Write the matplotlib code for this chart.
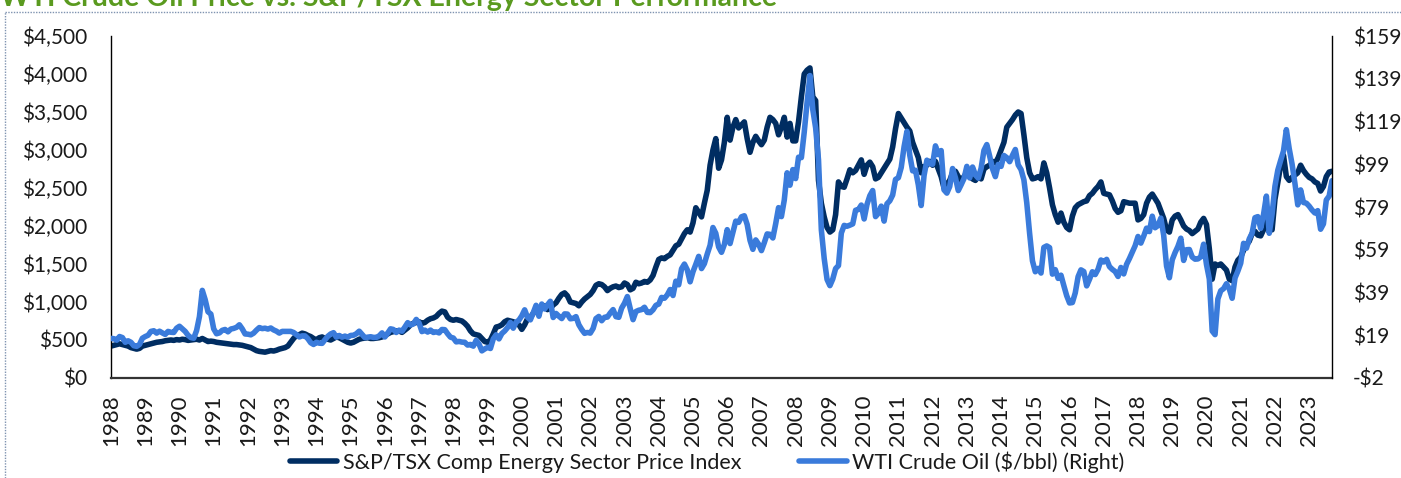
import matplotlib
matplotlib.use("Agg")
import matplotlib.pyplot as plt
from matplotlib.lines import Line2D

plt.rcParams['font.family'] = ['Lato', 'DejaVu Sans']

# ---------------- data ----------------
start_year = 1988          # first month: Jan 1988, monthly (month-end) values
tick_years = list(range(1988, 2024))

tsx_energy_index = [
    420, 430, 440, 450, 440, 430, 420, 400, 390, 380, 390, 420,          # 1988
    430, 440, 450, 460, 470, 475, 480, 490, 495, 500, 495, 505,          # 1989
    500, 510, 505, 495, 500, 505, 510, 500, 520, 500, 480, 485,          # 1990
    480, 470, 465, 460, 455, 450, 445, 440, 440, 435, 430, 420,          # 1991
    410, 400, 380, 360, 350, 345, 340, 350, 360, 355, 365, 380,          # 1992
    390, 400, 420, 470, 520, 560, 570, 590, 580, 560, 545, 520,          # 1993
    500, 530, 540, 520, 510, 500, 520, 540, 530, 510, 490, 470,          # 1994
    460, 470, 490, 510, 520, 525, 530, 520, 520, 525, 530, 540,          # 1995
    560, 580, 600, 610, 620, 620, 600, 630, 660, 700, 720, 730,          # 1996
    740, 720, 730, 760, 780, 790, 810, 850, 880, 870, 800, 770,          # 1997
    760, 770, 760, 750, 720, 680, 620, 580, 570, 560, 520, 480,          # 1998
    470, 500, 580, 670, 680, 700, 740, 760, 750, 740, 720, 700,          # 1999
    640, 700, 780, 800, 850, 900, 880, 920, 950, 900, 920, 960,          # 2000
    990, 1050, 1100, 1120, 1080, 1000, 990, 980, 950, 1000, 1040, 1070,  # 2001
    1100, 1150, 1220, 1240, 1230, 1200, 1150, 1180, 1200, 1210, 1190, 1200,  # 2002
    1250, 1230, 1160, 1180, 1260, 1240, 1250, 1270, 1260, 1290, 1350, 1460,  # 2003
    1560, 1580, 1570, 1600, 1620, 1680, 1740, 1760, 1830, 1900, 1950, 1920,  # 2004
    2040, 2240, 2180, 2120, 2300, 2470, 2800, 3000, 3150, 2760, 2870, 3100,  # 2005
    3430, 3130, 3300, 3400, 3290, 3330, 3370, 3150, 2970, 3100, 3180, 3120,  # 2006
    3070, 3130, 3300, 3430, 3400, 3350, 3200, 3300, 3430, 3170, 3350, 3120,  # 2007
    3120, 3370, 3700, 4000, 4050, 4080, 3700, 3650, 2600, 2300, 2120, 1980,  # 2008
    1920, 1950, 2150, 2580, 2520, 2510, 2620, 2740, 2700, 2730, 2800, 2870,  # 2009
    2680, 2800, 2840, 2780, 2620, 2640, 2700, 2760, 2820, 2880, 3040, 3280,  # 2010
    3480, 3420, 3360, 3300, 3250, 3100, 3000, 2900, 2700, 2780, 2800, 2850,  # 2011
    2800, 2850, 2750, 2650, 2500, 2550, 2600, 2700, 2720, 2650, 2600, 2650,  # 2012
    2700, 2650, 2620, 2600, 2650, 2620, 2750, 2780, 2800, 2850, 2830, 2900,  # 2013
    3000, 3100, 3300, 3350, 3400, 3460, 3500, 3480, 3200, 2900, 2700, 2620,  # 2014
    2630, 2650, 2620, 2830, 2700, 2500, 2280, 2150, 2050, 2170, 2050, 1980,  # 2015
    1950, 2130, 2240, 2280, 2300, 2320, 2330, 2400, 2430, 2480, 2520, 2580,  # 2016
    2430, 2420, 2410, 2330, 2230, 2180, 2200, 2320, 2310, 2300, 2300, 2300,  # 2017
    2080, 2100, 2150, 2300, 2380, 2420, 2360, 2300, 2200, 2100, 1950, 1920,  # 2018
    2080, 2130, 2150, 2080, 2000, 1960, 1940, 1900, 1930, 1960, 2050, 2100,  # 2019
    2020, 1700, 1300, 1500, 1480, 1500, 1460, 1420, 1300, 1280, 1460, 1550,  # 2020
    1590, 1680, 1750, 1800, 1900, 1930, 1880, 1870, 1950, 2060, 1950, 1950,  # 2021
    2350, 2570, 2800, 2930, 2650, 2600, 2640, 2670, 2700, 2800, 2730, 2680,  # 2022
    2640, 2620, 2580, 2560, 2460, 2520, 2650, 2710, 2720,                    # 2023
]

wti_price = [
    17.0, 16.9, 16.2, 17.9, 17.4, 15.2, 15.9, 15.2, 13.6, 13.3, 14.2, 17.1,  # 1988
    17.9, 18.5, 20.3, 20.6, 19.5, 20.4, 19.6, 18.9, 20.3, 19.9, 19.8, 21.8,  # 1989
    22.7, 21.5, 20.3, 18.5, 17.4, 17.1, 20.7, 27.2, 39.5, 35.2, 29.5, 28.4,  # 1990
    21.5, 19.2, 19.6, 20.8, 21.2, 20.1, 21.4, 21.7, 22.2, 23.4, 21.5, 19.1,  # 1991
    19.0, 18.7, 19.5, 20.9, 22.1, 21.6, 21.8, 21.4, 21.9, 21.0, 20.4, 19.5,  # 1992
    20.3, 20.3, 20.3, 20.3, 19.8, 18.8, 17.7, 18.2, 18.2, 16.9, 15.0, 14.2,  # 1993
    15.2, 14.8, 14.7, 16.4, 18.0, 19.1, 19.7, 17.6, 18.4, 17.6, 18.1, 17.6,  # 1994
    18.4, 18.5, 19.2, 20.4, 18.9, 17.4, 17.6, 17.8, 17.5, 17.5, 18.2, 19.6,  # 1995
    17.7, 19.5, 21.5, 21.2, 19.8, 20.9, 20.4, 22.3, 24.4, 23.3, 23.8, 25.9,  # 1996
    24.2, 20.2, 20.9, 20.0, 20.9, 19.8, 20.1, 19.6, 21.2, 21.1, 19.2, 17.6,  # 1997
    17.2, 15.4, 15.6, 15.3, 15.2, 13.9, 14.2, 13.4, 16.1, 14.4, 11.2, 12.1,  # 1998
    12.8, 12.3, 16.8, 18.7, 16.8, 19.3, 20.5, 22.1, 24.5, 21.8, 24.6, 25.6,  # 1999
    27.6, 30.4, 26.9, 25.7, 29.0, 32.5, 27.4, 33.1, 30.8, 32.7, 34.4, 26.8,  # 2000
    28.7, 27.4, 26.3, 28.5, 28.4, 26.2, 26.4, 27.2, 23.4, 21.2, 19.4, 19.8,  # 2001
    19.5, 21.7, 26.3, 27.3, 25.3, 26.9, 27.0, 28.9, 30.5, 27.2, 26.9, 31.2,  # 2002
    33.5, 36.6, 31.0, 25.8, 29.6, 30.2, 30.5, 31.6, 29.2, 29.1, 30.4, 32.5,  # 2003
    33.1, 36.2, 35.8, 37.4, 39.9, 37.1, 43.8, 42.1, 49.6, 51.8, 49.1, 43.5,  # 2004
    48.2, 51.7, 55.4, 49.7, 52.0, 56.5, 60.6, 68.9, 66.2, 59.8, 57.3, 61.0,  # 2005
    67.9, 61.4, 66.6, 71.9, 71.3, 73.9, 74.4, 70.3, 62.9, 58.7, 63.1, 61.1,  # 2006
    58.1, 61.8, 65.9, 65.7, 64.0, 70.7, 78.2, 74.0, 81.7, 94.5, 88.7, 96.0,  # 2007
    91.8, 101.8, 101.6, 113.5, 127.4, 140.0, 124.1, 115.5, 100.6, 67.8, 54.4, 44.6,  # 2008
    41.7, 44.8, 49.7, 51.1, 66.3, 69.9, 69.5, 70.0, 70.6, 77.0, 77.3, 79.4,  # 2009
    72.9, 79.7, 83.8, 86.2, 74.0, 75.6, 78.9, 71.9, 80.0, 81.4, 84.1, 91.4,  # 2010
    92.2, 97.0, 106.7, 113.9, 102.7, 95.4, 95.7, 88.8, 79.2, 93.2, 100.4, 98.8,  # 2011
    98.5, 107.1, 103.0, 104.9, 86.5, 85.0, 88.1, 96.5, 92.2, 86.2, 88.9, 91.8,  # 2012
    97.5, 92.1, 97.2, 93.5, 92.0, 96.6, 105.0, 107.7, 102.3, 96.4, 92.7, 98.4,  # 2013
    97.5, 102.6, 101.6, 99.7, 102.7, 105.4, 98.2, 96.0, 91.2, 80.5, 66.2, 53.3,  # 2014
    48.2, 49.8, 47.6, 59.6, 60.3, 59.5, 47.1, 49.2, 45.1, 46.6, 41.7, 37.0,  # 2015
    33.6, 33.8, 38.3, 45.9, 49.1, 48.3, 41.6, 44.7, 48.2, 46.9, 49.4, 53.7,  # 2016
    52.8, 54.0, 50.6, 49.3, 48.3, 46.0, 50.2, 47.2, 51.7, 54.4, 57.4, 60.4,  # 2017
    64.7, 61.6, 64.9, 68.6, 67.0, 74.2, 68.8, 69.8, 73.3, 65.3, 50.9, 45.4,  # 2018
    53.8, 57.2, 60.1, 63.9, 53.5, 58.5, 58.6, 55.1, 54.1, 54.2, 55.2, 61.1,  # 2019
    51.6, 44.8, 20.5, 18.8, 35.5, 39.3, 40.3, 42.6, 40.2, 35.8, 45.3, 48.5,  # 2020
    52.2, 61.5, 59.2, 63.6, 66.3, 73.5, 74.0, 68.5, 75.0, 83.6, 66.2, 75.2,  # 2021
    88.2, 95.7, 100.3, 104.7, 114.7, 105.8, 98.6, 89.6, 79.5, 86.5, 80.6, 80.3,  # 2022
    78.9, 77.1, 75.7, 76.8, 68.1, 70.6, 81.8, 83.6, 90.8,                    # 2023
]

left_ticks = [0, 500, 1000, 1500, 2000, 2500, 3000, 3500, 4000, 4500]
right_ticks = [-1.5, 18.5, 38.5, 58.5, 78.5, 98.5, 118.5, 138.5, 158.5]
right_tick_labels = ['-$2', '$19', '$39', '$59', '$79', '$99', '$119', '$139', '$159']

title = "WTI Crude Oil Price vs. S&P/TSX Energy Sector Performance"
tsx_label = "S&P/TSX Comp Energy Sector Price Index"
wti_label = "WTI Crude Oil ($/bbl) (Right)"

# ---------------- figure ----------------
W, H = 1401, 478
fig = plt.figure(figsize=(W / 100, H / 100), dpi=100)
L, R, T, B = 111, 1332, 36, 378
ax = fig.add_axes([L / W, 1 - B / H, (R - L) / W, (B - T) / H])
ax2 = ax.twinx()

x = [start_year + i / 12 for i in range(len(tsx_energy_index))]

dark = '#002D62'
light = '#3A7BDB'
l1, = ax.plot(x, tsx_energy_index, color=dark, lw=4.0, solid_joinstyle='round', solid_capstyle='round')
l2, = ax2.plot(x, wti_price, color=light, lw=4.0, solid_joinstyle='round', solid_capstyle='round')

ax.set_xlim(start_year, x[-1])
ax.set_ylim(0, 4500)
ax2.set_ylim(-1.5, 158.5)

ax.set_yticks(left_ticks)
ax.set_yticklabels(['\\$' + f"{v:,}" for v in left_ticks])
ax2.set_yticks(right_ticks)
ax2.set_yticklabels([s.replace('$', '\\$') for s in right_tick_labels])
ax.set_xticks(tick_years)
ax.set_xticklabels([str(y) for y in tick_years], rotation=90)

ax.tick_params(axis='y', length=0, pad=17, labelsize=15, colors='#1a1a1a')
ax2.tick_params(axis='y', length=0, pad=15, labelsize=15, colors='#1a1a1a')
ax.tick_params(axis='x', length=0, pad=12, labelsize=16, colors='#1a1a1a')

for a in (ax, ax2):
    a.spines['top'].set_visible(False)
    a.set_facecolor('none')
ax.spines['left'].set_color('#000000')
ax.spines['left'].set_linewidth(1.0)
ax2.spines['right'].set_color('#000000')
ax2.spines['right'].set_linewidth(1.0)
ax.spines['bottom'].set_color('#333333')
ax.spines['bottom'].set_linewidth(1.6)
ax2.spines['bottom'].set_visible(False)
ax2.spines['left'].set_visible(False)
ax.spines['right'].set_visible(False)

# title (partially cut at top as in the source)
fig.text(0 / W, 1 - 6 / H, title, fontsize=20.5, fontweight='bold', color='#5A9A1F',
         ha='left', va='baseline')

# dotted frame lines
fig.add_artist(Line2D([5 / W, 1.0], [1 - 12 / H, 1 - 12 / H], transform=fig.transFigure,
                      ls=(0, (1, 1)), color='#7F93B0', lw=1))
fig.add_artist(Line2D([5 / W, 5 / W], [0.0, 1 - 12 / H], transform=fig.transFigure,
                      ls=(0, (1, 1)), color='#7F93B0', lw=1))

fig.legend([l1, l2], [tsx_label, wti_label.replace('$', '\\$')],
           loc='center', bbox_to_anchor=(707 / W, 1 - 462 / H), ncol=2, frameon=False,
           fontsize=15.5, handlelength=2.2, handletextpad=0.25, columnspacing=2.7,
           labelcolor='#1a1a1a')

fig.savefig('out.png', dpi=100)
